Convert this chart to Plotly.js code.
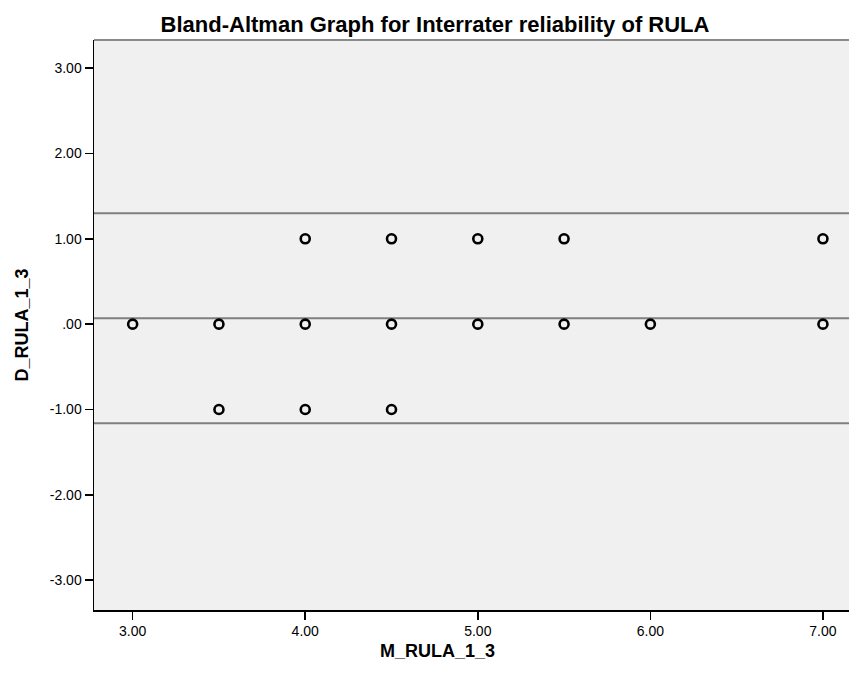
<!DOCTYPE html>
<html>
<head>
<meta charset="utf-8">
<script src="https://cdn.plot.ly/plotly-3.0.1.min.js"></script>
<style>html,body{margin:0;padding:0;background:#fff;}#chart{width:849px;height:675px;}</style>
</head>
<body>
<div id="chart"></div>
<script>
// Data points (mean vs difference)
const meanRULA = [3.0, 3.5, 3.5, 4.0, 4.0, 4.0, 4.5, 4.5, 4.5, 5.0, 5.0, 5.5, 5.5, 6.0, 7.0, 7.0];
const diffRULA = [0,   0,  -1,   1,   0,  -1,   1,   0,  -1,   1,   0,   1,   0,   0,   1,   0];
// Reference lines: upper limit, mean difference, lower limit
const refLines = [1.30, 0.07, -1.16];
// Tick values and labels
const xTickVals = [3, 4, 5, 6, 7];
const xTickText = ["3.00", "4.00", "5.00", "6.00", "7.00"];
const yTickVals = [3, 2, 1, 0, -1, -2, -3];
const yTickText = ["3.00", "2.00", "1.00", ".00", "-1.00", "-2.00", "-3.00"];

const xRange = [2.776, 7.151];
const yRange = [-3.35, 3.33];

const traces = [{
  x: meanRULA, y: diffRULA, type: 'scatter', mode: 'markers',
  marker: {symbol: 'circle-open', size: 9, color: '#000', line: {width: 2.6, color: '#000'}},
  hoverinfo: 'x+y', showlegend: false, cliponaxis: false
}];

const shapes = refLines.map(v => ({
  type: 'line', xref: 'paper', x0: 0, x1: 1, yref: 'y', y0: v, y1: v,
  line: {color: '#7f7f7f', width: 2}, layer: 'below'
}));
shapes.push({type: 'line', xref: 'paper', x0: 0, x1: 1, yref: 'paper', y0: 1, y1: 1,
  line: {color: '#8a8a8a', width: 2}});

const layout = {
  width: 849, height: 675,
  margin: {l: 94, r: 0, t: 40, b: 65},
  paper_bgcolor: '#ffffff', plot_bgcolor: '#f0f0f0',
  font: {family: 'Liberation Sans, Arial, sans-serif', color: '#000'},
  title: {text: '<b>Bland-Altman Graph for Interrater reliability of RULA</b>',
    font: {size: 22, color: '#000'}, x: 435/849, xref: 'container', xanchor: 'center', y: 1 - 24/675, yanchor: 'middle'},
  xaxis: {range: xRange, tickvals: xTickVals, ticktext: xTickText, showgrid: false, zeroline: false,
    showline: true, linecolor: '#000', linewidth: 1.5, ticks: 'outside', ticklen: 8, tickwidth: 1.5, tickcolor: '#000',
    tickfont: {size: 14, color: '#000'}},
  yaxis: {range: yRange, tickvals: yTickVals, ticktext: yTickText, showgrid: false, zeroline: false,
    showline: true, linecolor: '#000', linewidth: 1.5, ticks: 'outside', ticklen: 8, tickwidth: 1.5, tickcolor: '#000',
    tickfont: {size: 14, color: '#000'},
    title: {text: '<b>D_RULA_1_3</b>', font: {size: 18, color: '#000'}, standoff: 16}},
  annotations: [{text: '<b>M_RULA_1_3</b>', xref: 'paper', yref: 'paper',
    x: (437 - 94) / 755, y: (610 - 651) / 570, xanchor: 'center', yanchor: 'middle',
    showarrow: false, font: {size: 18, color: '#000'}}],
  shapes: shapes
};

Plotly.newPlot('chart', traces, layout, {displayModeBar: false, staticPlot: true});
</script>
</body>
</html>
